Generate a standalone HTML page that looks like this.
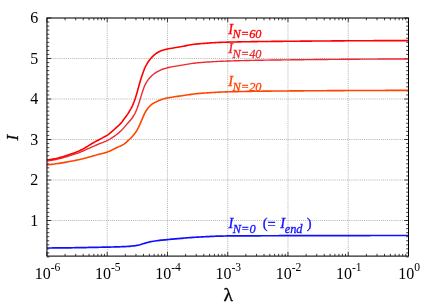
<!DOCTYPE html>
<html><head><meta charset="utf-8"><title>plot</title>
<style>
html,body{margin:0;padding:0;background:#fff;}
svg{display:block;}
text{font-family:"Liberation Serif","Times New Roman",serif;}
.t{font-size:16px;fill:#000;}
.s{font-size:11.6px;}
.lab{font-size:14.5px;font-style:italic;}
.sub{font-size:12.4px;font-style:italic;}
</style></head><body>
<svg width="436" height="305" viewBox="0 0 436 305">
<rect width="436" height="305" fill="#fff"/>
<path d="M107.21,18.0 V256.1 M167.47,18.0 V256.1 M227.73,18.0 V256.1 M287.98,18.0 V256.1 M348.24,18.0 V256.1 M46.95,220.50 H408.5 M46.95,180.00 H408.5 M46.95,139.50 H408.5 M46.95,99.00 H408.5 M46.95,58.50 H408.5" stroke="#888" stroke-width="0.65" stroke-dasharray="1 1.1" fill="none"/>
<path d="M46.95,256.1 v-4.2 M46.95,18.0 v4.2 M65.09,256.1 v-2.3 M65.09,18.0 v2.3 M75.70,256.1 v-2.3 M75.70,18.0 v2.3 M83.23,256.1 v-2.3 M83.23,18.0 v2.3 M89.07,256.1 v-2.3 M89.07,18.0 v2.3 M93.84,256.1 v-2.3 M93.84,18.0 v2.3 M97.87,256.1 v-2.3 M97.87,18.0 v2.3 M101.37,256.1 v-2.3 M101.37,18.0 v2.3 M104.45,256.1 v-2.3 M104.45,18.0 v2.3 M107.21,256.1 v-4.2 M107.21,18.0 v4.2 M125.35,256.1 v-2.3 M125.35,18.0 v2.3 M135.96,256.1 v-2.3 M135.96,18.0 v2.3 M143.49,256.1 v-2.3 M143.49,18.0 v2.3 M149.33,256.1 v-2.3 M149.33,18.0 v2.3 M154.10,256.1 v-2.3 M154.10,18.0 v2.3 M158.13,256.1 v-2.3 M158.13,18.0 v2.3 M161.63,256.1 v-2.3 M161.63,18.0 v2.3 M164.71,256.1 v-2.3 M164.71,18.0 v2.3 M167.47,256.1 v-4.2 M167.47,18.0 v4.2 M185.61,256.1 v-2.3 M185.61,18.0 v2.3 M196.22,256.1 v-2.3 M196.22,18.0 v2.3 M203.75,256.1 v-2.3 M203.75,18.0 v2.3 M209.59,256.1 v-2.3 M209.59,18.0 v2.3 M214.36,256.1 v-2.3 M214.36,18.0 v2.3 M218.39,256.1 v-2.3 M218.39,18.0 v2.3 M221.89,256.1 v-2.3 M221.89,18.0 v2.3 M224.97,256.1 v-2.3 M224.97,18.0 v2.3 M227.73,256.1 v-4.2 M227.73,18.0 v4.2 M245.86,256.1 v-2.3 M245.86,18.0 v2.3 M256.48,256.1 v-2.3 M256.48,18.0 v2.3 M264.00,256.1 v-2.3 M264.00,18.0 v2.3 M269.84,256.1 v-2.3 M269.84,18.0 v2.3 M274.62,256.1 v-2.3 M274.62,18.0 v2.3 M278.65,256.1 v-2.3 M278.65,18.0 v2.3 M282.14,256.1 v-2.3 M282.14,18.0 v2.3 M285.23,256.1 v-2.3 M285.23,18.0 v2.3 M287.98,256.1 v-4.2 M287.98,18.0 v4.2 M306.12,256.1 v-2.3 M306.12,18.0 v2.3 M316.73,256.1 v-2.3 M316.73,18.0 v2.3 M324.26,256.1 v-2.3 M324.26,18.0 v2.3 M330.10,256.1 v-2.3 M330.10,18.0 v2.3 M334.87,256.1 v-2.3 M334.87,18.0 v2.3 M338.91,256.1 v-2.3 M338.91,18.0 v2.3 M342.40,256.1 v-2.3 M342.40,18.0 v2.3 M345.48,256.1 v-2.3 M345.48,18.0 v2.3 M348.24,256.1 v-4.2 M348.24,18.0 v4.2 M366.38,256.1 v-2.3 M366.38,18.0 v2.3 M376.99,256.1 v-2.3 M376.99,18.0 v2.3 M384.52,256.1 v-2.3 M384.52,18.0 v2.3 M390.36,256.1 v-2.3 M390.36,18.0 v2.3 M395.13,256.1 v-2.3 M395.13,18.0 v2.3 M399.17,256.1 v-2.3 M399.17,18.0 v2.3 M402.66,256.1 v-2.3 M402.66,18.0 v2.3 M405.74,256.1 v-2.3 M405.74,18.0 v2.3 M408.50,256.1 v-4.2 M408.50,18.0 v4.2 M46.95,256.95 h2.3 M408.5,256.95 h-2.3 M46.95,252.90 h2.3 M408.5,252.90 h-2.3 M46.95,248.85 h2.3 M408.5,248.85 h-2.3 M46.95,244.80 h2.3 M408.5,244.80 h-2.3 M46.95,240.75 h2.3 M408.5,240.75 h-2.3 M46.95,236.70 h2.3 M408.5,236.70 h-2.3 M46.95,232.65 h2.3 M408.5,232.65 h-2.3 M46.95,228.60 h2.3 M408.5,228.60 h-2.3 M46.95,224.55 h2.3 M408.5,224.55 h-2.3 M46.95,220.50 h4.2 M408.5,220.50 h-4.2 M46.95,216.45 h2.3 M408.5,216.45 h-2.3 M46.95,212.40 h2.3 M408.5,212.40 h-2.3 M46.95,208.35 h2.3 M408.5,208.35 h-2.3 M46.95,204.30 h2.3 M408.5,204.30 h-2.3 M46.95,200.25 h2.3 M408.5,200.25 h-2.3 M46.95,196.20 h2.3 M408.5,196.20 h-2.3 M46.95,192.15 h2.3 M408.5,192.15 h-2.3 M46.95,188.10 h2.3 M408.5,188.10 h-2.3 M46.95,184.05 h2.3 M408.5,184.05 h-2.3 M46.95,180.00 h4.2 M408.5,180.00 h-4.2 M46.95,175.95 h2.3 M408.5,175.95 h-2.3 M46.95,171.90 h2.3 M408.5,171.90 h-2.3 M46.95,167.85 h2.3 M408.5,167.85 h-2.3 M46.95,163.80 h2.3 M408.5,163.80 h-2.3 M46.95,159.75 h2.3 M408.5,159.75 h-2.3 M46.95,155.70 h2.3 M408.5,155.70 h-2.3 M46.95,151.65 h2.3 M408.5,151.65 h-2.3 M46.95,147.60 h2.3 M408.5,147.60 h-2.3 M46.95,143.55 h2.3 M408.5,143.55 h-2.3 M46.95,139.50 h4.2 M408.5,139.50 h-4.2 M46.95,135.45 h2.3 M408.5,135.45 h-2.3 M46.95,131.40 h2.3 M408.5,131.40 h-2.3 M46.95,127.35 h2.3 M408.5,127.35 h-2.3 M46.95,123.30 h2.3 M408.5,123.30 h-2.3 M46.95,119.25 h2.3 M408.5,119.25 h-2.3 M46.95,115.20 h2.3 M408.5,115.20 h-2.3 M46.95,111.15 h2.3 M408.5,111.15 h-2.3 M46.95,107.10 h2.3 M408.5,107.10 h-2.3 M46.95,103.05 h2.3 M408.5,103.05 h-2.3 M46.95,99.00 h4.2 M408.5,99.00 h-4.2 M46.95,94.95 h2.3 M408.5,94.95 h-2.3 M46.95,90.90 h2.3 M408.5,90.90 h-2.3 M46.95,86.85 h2.3 M408.5,86.85 h-2.3 M46.95,82.80 h2.3 M408.5,82.80 h-2.3 M46.95,78.75 h2.3 M408.5,78.75 h-2.3 M46.95,74.70 h2.3 M408.5,74.70 h-2.3 M46.95,70.65 h2.3 M408.5,70.65 h-2.3 M46.95,66.60 h2.3 M408.5,66.60 h-2.3 M46.95,62.55 h2.3 M408.5,62.55 h-2.3 M46.95,58.50 h4.2 M408.5,58.50 h-4.2 M46.95,54.45 h2.3 M408.5,54.45 h-2.3 M46.95,50.40 h2.3 M408.5,50.40 h-2.3 M46.95,46.35 h2.3 M408.5,46.35 h-2.3 M46.95,42.30 h2.3 M408.5,42.30 h-2.3 M46.95,38.25 h2.3 M408.5,38.25 h-2.3 M46.95,34.20 h2.3 M408.5,34.20 h-2.3 M46.95,30.15 h2.3 M408.5,30.15 h-2.3 M46.95,26.10 h2.3 M408.5,26.10 h-2.3 M46.95,22.05 h2.3 M408.5,22.05 h-2.3 M46.95,18.00 h4.2 M408.5,18.00 h-4.2" stroke="#000" stroke-width="0.75" fill="none"/>
<path d="M47.0,248.00 L48.5,247.99 L50.0,247.99 L51.5,247.98 L53.0,247.97 L54.5,247.96 L56.0,247.95 L57.5,247.93 L59.0,247.92 L60.5,247.90 L62.0,247.89 L63.5,247.87 L65.0,247.85 L66.5,247.84 L68.0,247.82 L69.5,247.80 L71.0,247.78 L72.5,247.75 L74.0,247.73 L75.5,247.71 L77.0,247.68 L78.5,247.66 L80.0,247.64 L81.5,247.61 L83.0,247.58 L84.5,247.56 L86.0,247.53 L87.5,247.50 L89.0,247.47 L90.5,247.45 L92.0,247.42 L93.5,247.39 L95.0,247.36 L96.5,247.33 L98.0,247.30 L99.5,247.27 L101.0,247.24 L102.5,247.21 L104.0,247.18 L105.5,247.14 L107.0,247.11 L107.6,247.10 L108.5,247.08 L110.0,247.05 L111.5,247.02 L113.0,246.98 L114.5,246.95 L116.0,246.91 L117.5,246.87 L119.0,246.82 L120.5,246.77 L122.0,246.72 L123.5,246.66 L124.8,246.60 L125.0,246.59 L126.5,246.51 L128.0,246.41 L129.5,246.29 L131.0,246.15 L132.5,246.00 L133.0,245.95 L134.0,245.83 L135.5,245.63 L137.0,245.38 L138.5,245.10 L140.0,244.73 L141.5,244.27 L143.0,243.79 L144.0,243.50 L144.5,243.36 L146.0,242.94 L147.5,242.52 L149.0,242.13 L150.5,241.78 L150.9,241.70 L152.0,241.49 L153.5,241.22 L155.0,240.98 L156.5,240.75 L158.0,240.55 L159.5,240.36 L160.0,240.30 L161.0,240.19 L162.5,240.04 L164.0,239.91 L165.5,239.78 L167.0,239.65 L167.5,239.60 L168.5,239.51 L170.0,239.36 L171.5,239.22 L173.0,239.08 L174.5,238.94 L175.0,238.90 L176.0,238.81 L177.5,238.68 L179.0,238.55 L180.5,238.41 L182.0,238.28 L183.5,238.15 L185.0,238.02 L186.5,237.89 L188.0,237.77 L189.5,237.65 L191.0,237.54 L192.5,237.43 L194.0,237.33 L195.5,237.23 L197.0,237.14 L197.8,237.10 L198.5,237.06 L200.0,236.98 L201.5,236.91 L203.0,236.83 L204.5,236.75 L206.0,236.67 L207.5,236.60 L209.0,236.53 L210.5,236.46 L212.0,236.39 L213.5,236.33 L215.0,236.27 L216.5,236.21 L218.0,236.16 L219.5,236.11 L221.0,236.07 L222.5,236.03 L224.0,236.00 L225.5,235.98 L227.0,235.96 L227.6,235.95 L228.5,235.94 L230.0,235.93 L231.5,235.92 L233.0,235.91 L234.5,235.90 L236.0,235.89 L237.5,235.88 L239.0,235.87 L240.5,235.86 L242.0,235.85 L243.5,235.84 L245.0,235.84 L246.5,235.83 L248.0,235.82 L249.5,235.82 L251.0,235.81 L252.5,235.80 L254.0,235.80 L255.5,235.79 L257.0,235.79 L258.5,235.78 L260.0,235.78 L261.5,235.77 L263.0,235.77 L264.5,235.77 L266.0,235.76 L267.5,235.76 L269.0,235.75 L270.0,235.75 L270.5,235.75 L272.0,235.74 L273.5,235.74 L275.0,235.74 L276.5,235.73 L278.0,235.73 L279.5,235.72 L281.0,235.72 L282.5,235.71 L284.0,235.71 L285.5,235.71 L287.0,235.70 L288.5,235.70 L290.0,235.69 L291.5,235.69 L293.0,235.69 L294.5,235.68 L296.0,235.68 L297.5,235.67 L299.0,235.67 L300.5,235.67 L302.0,235.66 L303.5,235.66 L305.0,235.65 L306.5,235.65 L308.0,235.65 L309.5,235.64 L311.0,235.64 L312.5,235.64 L314.0,235.63 L315.5,235.63 L317.0,235.63 L318.5,235.62 L320.0,235.62 L321.5,235.61 L323.0,235.61 L324.5,235.61 L326.0,235.60 L327.5,235.60 L329.0,235.60 L330.5,235.59 L332.0,235.59 L333.5,235.59 L335.0,235.58 L336.5,235.58 L338.0,235.58 L339.5,235.58 L341.0,235.57 L342.5,235.57 L344.0,235.57 L345.5,235.56 L347.0,235.56 L348.5,235.56 L350.0,235.56 L351.5,235.55 L353.0,235.55 L354.5,235.55 L356.0,235.55 L357.5,235.54 L359.0,235.54 L360.5,235.54 L362.0,235.54 L363.5,235.53 L365.0,235.53 L366.5,235.53 L368.0,235.53 L369.5,235.53 L371.0,235.52 L372.5,235.52 L374.0,235.52 L375.5,235.52 L377.0,235.52 L378.5,235.52 L380.0,235.51 L381.5,235.51 L383.0,235.51 L384.5,235.51 L386.0,235.51 L387.5,235.51 L389.0,235.51 L390.5,235.51 L392.0,235.50 L393.5,235.50 L395.0,235.50 L396.5,235.50 L398.0,235.50 L399.5,235.50 L401.0,235.50 L402.5,235.50 L404.0,235.50 L405.5,235.50 L407.0,235.50 L408.5,235.50" stroke="#1010ff" stroke-width="1.7" fill="none" stroke-linejoin="round"/>
<path d="M47.0,164.90 L48.5,164.74 L50.0,164.57 L51.5,164.39 L53.0,164.20 L54.5,164.00 L56.0,163.80 L57.5,163.58 L59.0,163.35 L60.5,163.11 L62.0,162.87 L63.5,162.62 L65.0,162.36 L66.5,162.09 L68.0,161.82 L69.5,161.55 L71.0,161.26 L72.5,160.97 L74.0,160.68 L75.5,160.38 L77.0,160.08 L77.4,160.00 L78.5,159.77 L80.0,159.44 L81.5,159.08 L83.0,158.71 L84.5,158.32 L86.0,157.92 L87.5,157.51 L89.0,157.09 L90.5,156.67 L92.0,156.24 L93.5,155.82 L95.0,155.40 L96.5,154.98 L98.0,154.57 L99.0,154.30 L99.5,154.17 L101.0,153.79 L102.5,153.43 L104.0,153.05 L105.5,152.64 L106.9,152.20 L107.0,152.17 L108.5,151.61 L110.0,150.98 L111.5,150.29 L113.0,149.56 L114.5,148.80 L116.0,148.05 L117.1,147.50 L117.5,147.31 L119.0,146.61 L120.5,145.92 L122.0,145.18 L123.5,144.36 L125.0,143.40 L126.5,142.09 L128.0,140.60 L129.5,139.23 L131.0,137.82 L131.6,137.20 L132.5,136.22 L134.0,134.48 L135.5,132.52 L136.6,130.90 L137.0,130.24 L138.5,127.37 L139.8,124.60 L140.0,124.17 L141.5,120.67 L142.0,119.50 L143.0,117.11 L144.5,113.68 L144.8,113.10 L146.0,110.99 L147.5,108.72 L148.4,107.60 L149.0,106.94 L150.5,105.45 L152.0,104.20 L153.0,103.50 L153.5,103.19 L155.0,102.40 L156.5,101.69 L156.7,101.60 L158.0,100.98 L159.5,100.32 L160.3,100.00 L161.0,99.74 L162.5,99.23 L164.0,98.77 L165.4,98.40 L165.5,98.38 L167.0,98.04 L168.5,97.75 L170.0,97.48 L171.5,97.23 L172.9,97.00 L173.0,96.98 L174.5,96.76 L176.0,96.54 L177.5,96.34 L179.0,96.14 L180.0,96.00 L180.5,95.93 L182.0,95.71 L183.5,95.49 L185.0,95.26 L186.5,95.03 L188.0,94.81 L189.5,94.59 L191.0,94.37 L192.5,94.17 L194.0,93.98 L195.5,93.81 L197.0,93.66 L197.7,93.60 L198.5,93.53 L200.0,93.41 L201.5,93.29 L203.0,93.17 L204.5,93.06 L206.0,92.95 L207.5,92.84 L209.0,92.73 L210.5,92.64 L212.0,92.54 L213.5,92.45 L215.0,92.36 L216.5,92.28 L218.0,92.20 L219.5,92.13 L221.0,92.06 L222.5,92.00 L224.0,91.94 L225.5,91.89 L227.0,91.84 L228.5,91.80 L230.0,91.76 L231.5,91.72 L233.0,91.69 L234.5,91.65 L236.0,91.62 L237.5,91.59 L239.0,91.56 L240.5,91.52 L242.0,91.49 L243.5,91.47 L245.0,91.44 L246.5,91.41 L248.0,91.38 L249.5,91.36 L251.0,91.33 L252.5,91.31 L254.0,91.29 L255.5,91.27 L257.0,91.24 L258.5,91.22 L260.0,91.20 L261.5,91.18 L263.0,91.17 L264.5,91.15 L266.0,91.13 L267.5,91.11 L269.0,91.10 L270.5,91.08 L272.0,91.07 L273.5,91.06 L275.0,91.04 L276.5,91.03 L278.0,91.02 L279.5,91.00 L280.0,91.00 L281.0,90.99 L282.5,90.98 L284.0,90.97 L285.5,90.96 L287.0,90.95 L288.5,90.93 L290.0,90.92 L291.5,90.91 L293.0,90.90 L294.5,90.89 L296.0,90.88 L297.5,90.87 L299.0,90.86 L300.5,90.85 L302.0,90.84 L303.5,90.83 L305.0,90.81 L306.5,90.80 L308.0,90.79 L309.5,90.78 L311.0,90.77 L312.5,90.76 L314.0,90.75 L315.5,90.74 L317.0,90.73 L318.5,90.72 L320.0,90.71 L321.5,90.70 L323.0,90.70 L324.5,90.69 L326.0,90.68 L327.5,90.67 L329.0,90.66 L330.5,90.65 L332.0,90.64 L333.5,90.63 L335.0,90.62 L336.5,90.62 L338.0,90.61 L339.5,90.60 L341.0,90.59 L342.5,90.58 L344.0,90.58 L345.5,90.57 L347.0,90.56 L348.5,90.55 L350.0,90.55 L351.5,90.54 L353.0,90.53 L354.5,90.53 L356.0,90.52 L357.5,90.51 L359.0,90.51 L360.5,90.50 L362.0,90.50 L363.5,90.49 L365.0,90.48 L366.5,90.48 L368.0,90.47 L369.5,90.47 L371.0,90.46 L372.5,90.46 L374.0,90.45 L375.5,90.45 L377.0,90.45 L378.5,90.44 L380.0,90.44 L381.5,90.43 L383.0,90.43 L384.5,90.43 L386.0,90.42 L387.5,90.42 L389.0,90.42 L390.5,90.42 L392.0,90.41 L393.5,90.41 L395.0,90.41 L396.5,90.41 L398.0,90.41 L399.5,90.40 L401.0,90.40 L402.5,90.40 L404.0,90.40 L405.5,90.40 L407.0,90.40 L408.5,90.40" stroke="#ff4500" stroke-width="1.6" fill="none" stroke-linejoin="round"/>
<path d="M47.0,161.10 L48.5,160.89 L50.0,160.66 L51.5,160.40 L53.0,160.12 L54.5,159.81 L56.0,159.49 L57.5,159.15 L59.0,158.79 L60.5,158.42 L62.0,158.02 L63.5,157.61 L65.0,157.19 L66.5,156.76 L68.0,156.31 L69.5,155.85 L71.0,155.38 L72.5,154.91 L74.0,154.42 L75.5,153.93 L77.0,153.43 L77.4,153.30 L78.5,152.91 L80.0,152.34 L81.5,151.71 L83.0,151.05 L84.5,150.36 L86.0,149.66 L87.5,148.96 L89.0,148.27 L90.5,147.60 L92.0,146.95 L93.5,146.29 L95.0,145.64 L96.5,144.99 L98.0,144.34 L98.8,144.00 L99.5,143.71 L101.0,143.11 L102.5,142.53 L104.0,141.95 L105.5,141.32 L107.0,140.64 L107.5,140.40 L108.5,139.87 L110.0,138.99 L111.5,138.05 L112.5,137.40 L113.0,137.08 L114.5,136.08 L116.0,135.03 L117.1,134.20 L117.5,133.88 L119.0,132.63 L120.5,131.27 L121.7,130.10 L122.0,129.79 L123.5,128.14 L125.0,126.36 L126.5,124.60 L128.0,122.95 L129.5,121.30 L131.0,119.50 L132.5,117.50 L134.0,115.23 L134.7,114.00 L135.5,112.36 L137.0,108.66 L137.4,107.60 L138.5,104.43 L139.7,100.70 L140.0,99.75 L141.5,94.83 L142.4,92.00 L143.0,90.19 L144.5,86.05 L144.7,85.60 L146.0,83.06 L147.5,80.66 L147.9,80.10 L149.0,78.67 L150.5,76.96 L152.0,75.50 L153.5,74.24 L155.0,73.13 L156.5,72.16 L156.6,72.10 L158.0,71.30 L159.5,70.52 L161.0,69.84 L162.1,69.40 L162.5,69.26 L164.0,68.76 L165.5,68.32 L167.0,67.93 L167.5,67.80 L168.5,67.55 L170.0,67.20 L171.5,66.87 L172.9,66.60 L173.0,66.58 L174.5,66.32 L176.0,66.09 L177.5,65.87 L179.0,65.65 L180.0,65.50 L180.5,65.42 L182.0,65.18 L183.5,64.93 L185.0,64.67 L186.5,64.41 L188.0,64.15 L189.5,63.90 L191.0,63.65 L192.5,63.42 L194.0,63.21 L195.5,63.03 L197.0,62.87 L197.7,62.80 L198.5,62.73 L200.0,62.60 L201.5,62.48 L203.0,62.36 L204.5,62.25 L206.0,62.14 L207.5,62.04 L209.0,61.93 L210.5,61.84 L212.0,61.75 L213.5,61.66 L215.0,61.58 L216.5,61.50 L218.0,61.42 L219.5,61.35 L221.0,61.28 L222.5,61.22 L224.0,61.16 L225.5,61.10 L227.0,61.05 L228.5,61.00 L230.0,60.95 L231.5,60.91 L233.0,60.86 L234.5,60.82 L236.0,60.78 L237.5,60.74 L239.0,60.70 L240.5,60.66 L242.0,60.62 L243.5,60.58 L245.0,60.55 L246.5,60.51 L248.0,60.48 L249.5,60.45 L251.0,60.41 L252.5,60.38 L254.0,60.35 L255.5,60.32 L257.0,60.29 L258.5,60.27 L260.0,60.24 L261.5,60.21 L263.0,60.19 L264.5,60.16 L266.0,60.14 L267.5,60.12 L269.0,60.09 L270.5,60.07 L272.0,60.05 L273.5,60.03 L275.0,60.01 L276.5,59.99 L278.0,59.97 L279.5,59.96 L280.0,59.95 L281.0,59.94 L282.5,59.92 L284.0,59.90 L285.5,59.89 L287.0,59.87 L288.5,59.85 L290.0,59.83 L291.5,59.82 L293.0,59.80 L294.5,59.78 L296.0,59.77 L297.5,59.75 L299.0,59.73 L300.5,59.72 L302.0,59.70 L303.5,59.68 L305.0,59.67 L306.5,59.65 L308.0,59.64 L309.5,59.62 L311.0,59.60 L312.5,59.59 L314.0,59.57 L315.5,59.56 L317.0,59.54 L318.5,59.53 L320.0,59.51 L321.5,59.50 L323.0,59.48 L324.5,59.47 L326.0,59.45 L327.5,59.44 L329.0,59.42 L330.5,59.41 L332.0,59.39 L333.5,59.38 L335.0,59.37 L336.5,59.35 L338.0,59.34 L339.5,59.33 L341.0,59.32 L342.5,59.30 L344.0,59.29 L345.5,59.28 L347.0,59.27 L348.5,59.25 L350.0,59.24 L351.5,59.23 L353.0,59.22 L354.5,59.21 L356.0,59.20 L357.5,59.19 L359.0,59.18 L360.5,59.17 L362.0,59.16 L363.5,59.15 L365.0,59.14 L366.5,59.13 L368.0,59.12 L369.5,59.11 L371.0,59.11 L372.5,59.10 L374.0,59.09 L375.5,59.08 L377.0,59.08 L378.5,59.07 L380.0,59.06 L381.5,59.06 L383.0,59.05 L384.5,59.04 L386.0,59.04 L387.5,59.03 L389.0,59.03 L390.5,59.03 L392.0,59.02 L393.5,59.02 L395.0,59.01 L396.5,59.01 L398.0,59.01 L399.5,59.01 L401.0,59.00 L402.5,59.00 L404.0,59.00 L405.5,59.00 L407.0,59.00 L408.5,59.00" stroke="#ec2a30" stroke-width="1.4" fill="none" stroke-linejoin="round"/>
<path d="M47.0,159.90 L48.5,159.76 L50.0,159.57 L51.5,159.36 L53.0,159.10 L54.5,158.82 L56.0,158.51 L57.5,158.16 L59.0,157.79 L60.5,157.39 L62.0,156.97 L63.5,156.53 L65.0,156.07 L66.5,155.59 L68.0,155.09 L69.5,154.58 L71.0,154.05 L72.5,153.51 L74.0,152.97 L75.5,152.41 L77.0,151.85 L77.4,151.70 L78.5,151.26 L80.0,150.58 L81.5,149.83 L83.0,149.01 L84.5,148.14 L86.0,147.24 L87.5,146.31 L89.0,145.38 L90.5,144.46 L92.0,143.56 L93.5,142.69 L94.2,142.30 L95.0,141.86 L96.5,141.05 L98.0,140.25 L99.5,139.44 L101.0,138.64 L102.5,137.83 L103.3,137.40 L104.0,137.03 L105.5,136.26 L107.0,135.41 L107.5,135.10 L108.5,134.39 L110.0,133.18 L111.5,131.87 L112.5,131.00 L113.0,130.57 L114.5,129.27 L116.0,127.92 L117.1,126.90 L117.5,126.53 L119.0,125.13 L120.5,123.64 L121.7,122.30 L122.0,121.92 L123.5,119.78 L123.7,119.50 L125.0,117.80 L126.5,115.80 L128.0,113.61 L129.2,111.70 L129.5,111.20 L131.0,108.58 L132.4,105.80 L132.5,105.58 L134.0,101.94 L135.1,98.90 L135.5,97.72 L137.0,92.83 L137.3,91.80 L138.5,87.36 L139.6,83.30 L140.0,81.94 L141.5,77.10 L141.9,75.90 L143.0,72.67 L144.5,68.68 L144.8,68.00 L146.0,65.56 L147.5,62.94 L148.1,62.00 L149.0,60.68 L150.5,58.75 L150.8,58.40 L152.0,57.06 L153.5,55.56 L154.5,54.70 L155.0,54.31 L156.5,53.22 L158.0,52.28 L159.1,51.70 L159.5,51.51 L161.0,50.85 L162.5,50.28 L163.7,49.90 L164.0,49.81 L165.5,49.43 L167.0,49.10 L167.5,49.00 L168.5,48.81 L170.0,48.56 L171.5,48.33 L172.9,48.10 L173.0,48.08 L174.5,47.82 L176.0,47.55 L177.5,47.29 L178.0,47.20 L179.0,47.02 L180.5,46.75 L182.0,46.47 L183.5,46.18 L185.0,45.89 L186.5,45.60 L188.0,45.32 L189.5,45.05 L191.0,44.79 L192.5,44.55 L194.0,44.33 L195.5,44.13 L197.0,43.97 L197.7,43.90 L198.5,43.83 L200.0,43.70 L201.5,43.57 L203.0,43.45 L204.5,43.33 L206.0,43.22 L207.5,43.11 L209.0,43.01 L210.5,42.91 L212.0,42.81 L213.5,42.73 L215.0,42.64 L216.5,42.56 L218.0,42.49 L219.5,42.41 L221.0,42.35 L222.5,42.29 L224.0,42.23 L225.5,42.18 L227.0,42.14 L228.5,42.10 L230.0,42.06 L231.5,42.03 L233.0,41.99 L234.5,41.96 L236.0,41.93 L237.5,41.90 L239.0,41.87 L240.5,41.84 L242.0,41.82 L243.5,41.79 L245.0,41.76 L246.5,41.74 L248.0,41.71 L249.5,41.69 L251.0,41.67 L252.5,41.65 L254.0,41.63 L255.5,41.61 L257.0,41.59 L258.5,41.57 L260.0,41.55 L261.5,41.53 L263.0,41.52 L264.5,41.50 L266.0,41.48 L267.5,41.47 L269.0,41.45 L270.5,41.44 L272.0,41.42 L273.5,41.41 L275.0,41.40 L276.5,41.38 L278.0,41.37 L279.5,41.35 L280.0,41.35 L281.0,41.34 L282.5,41.33 L284.0,41.31 L285.5,41.30 L287.0,41.29 L288.5,41.27 L290.0,41.26 L291.5,41.25 L293.0,41.24 L294.5,41.22 L296.0,41.21 L297.5,41.20 L299.0,41.18 L300.5,41.17 L302.0,41.16 L303.5,41.14 L305.0,41.13 L306.5,41.12 L308.0,41.11 L309.5,41.09 L311.0,41.08 L312.5,41.07 L314.0,41.06 L315.5,41.04 L317.0,41.03 L318.5,41.02 L320.0,41.01 L321.5,41.00 L323.0,40.99 L324.5,40.97 L326.0,40.96 L327.5,40.95 L329.0,40.94 L330.5,40.93 L332.0,40.92 L333.5,40.91 L335.0,40.90 L336.5,40.89 L338.0,40.87 L339.5,40.86 L341.0,40.85 L342.5,40.84 L344.0,40.83 L345.5,40.82 L347.0,40.81 L348.5,40.81 L350.0,40.80 L351.5,40.79 L353.0,40.78 L354.5,40.77 L356.0,40.76 L357.5,40.75 L359.0,40.74 L360.5,40.74 L362.0,40.73 L363.5,40.72 L365.0,40.71 L366.5,40.71 L368.0,40.70 L369.5,40.69 L371.0,40.69 L372.5,40.68 L374.0,40.67 L375.5,40.67 L377.0,40.66 L378.5,40.66 L380.0,40.65 L381.5,40.65 L383.0,40.64 L384.5,40.64 L386.0,40.63 L387.5,40.63 L389.0,40.62 L390.5,40.62 L392.0,40.62 L393.5,40.61 L395.0,40.61 L396.5,40.61 L398.0,40.61 L399.5,40.61 L401.0,40.60 L402.5,40.60 L404.0,40.60 L405.5,40.60 L407.0,40.60 L408.5,40.60" stroke="#ff0000" stroke-width="1.6" fill="none" stroke-linejoin="round"/>
<rect x="46.95" y="18.0" width="361.55" height="238.10000000000002" fill="none" stroke="#000" stroke-width="1.05"/>
<text class="t" x="38.2" y="225.90" text-anchor="end">1</text>
<text class="t" x="38.2" y="185.40" text-anchor="end">2</text>
<text class="t" x="38.2" y="144.90" text-anchor="end">3</text>
<text class="t" x="38.2" y="104.40" text-anchor="end">4</text>
<text class="t" x="38.2" y="63.90" text-anchor="end">5</text>
<text class="t" x="38.2" y="23.40" text-anchor="end">6</text>
<text class="t" x="34.72" y="278.6">10<tspan class="s" dy="-8">-6</tspan></text>
<text class="t" x="94.98" y="278.6">10<tspan class="s" dy="-8">-5</tspan></text>
<text class="t" x="155.24" y="278.6">10<tspan class="s" dy="-8">-4</tspan></text>
<text class="t" x="215.49" y="278.6">10<tspan class="s" dy="-8">-3</tspan></text>
<text class="t" x="275.75" y="278.6">10<tspan class="s" dy="-8">-2</tspan></text>
<text class="t" x="336.01" y="278.6">10<tspan class="s" dy="-8">-1</tspan></text>
<text class="t" x="398.20" y="278.6">10<tspan class="s" dy="-8">0</tspan></text>
<text x="0" y="0" transform="translate(18,137.6) rotate(-90)" text-anchor="middle" font-size="17px" font-style="italic" stroke="#000" stroke-width="0.3">I</text>
<text x="228.2" y="300.7" text-anchor="middle" font-size="19.6px" stroke="#000" stroke-width="0.3">λ</text>
<text class="lab" x="228.3" y="33.5" fill="#ff0000" stroke="#ff0000" stroke-width="0.3">I<tspan class="sub" dy="4.6" dx="-0.6">N=60</tspan></text>
<text class="lab" x="228.3" y="53.2" fill="#ec2a30" stroke="#ec2a30" stroke-width="0.3">I<tspan class="sub" dy="4.6" dx="-0.6">N=40</tspan></text>
<text class="lab" x="228.3" y="86.2" fill="#ff4500" stroke="#ff4500" stroke-width="0.3">I<tspan class="sub" dy="4.6" dx="-0.6">N=20</tspan></text>
<text class="lab" x="228.6" y="227.9" fill="#1010ff" stroke="#1010ff" stroke-width="0.3">I<tspan class="sub" dy="4.6" dx="-0.6">N=0</tspan><tspan dy="-4.6" dx="7" font-style="normal" font-size="14.5px">(</tspan><tspan dy="1.1" font-style="normal" font-size="14.5px">=</tspan><tspan dy="-1.1" dx="4.5" font-size="14.5px">I</tspan><tspan class="sub" dy="4.6" dx="-0.4">end</tspan><tspan dy="-4.6" dx="4.3" font-style="normal" font-size="14.5px">)</tspan></text>
</svg></body></html>
